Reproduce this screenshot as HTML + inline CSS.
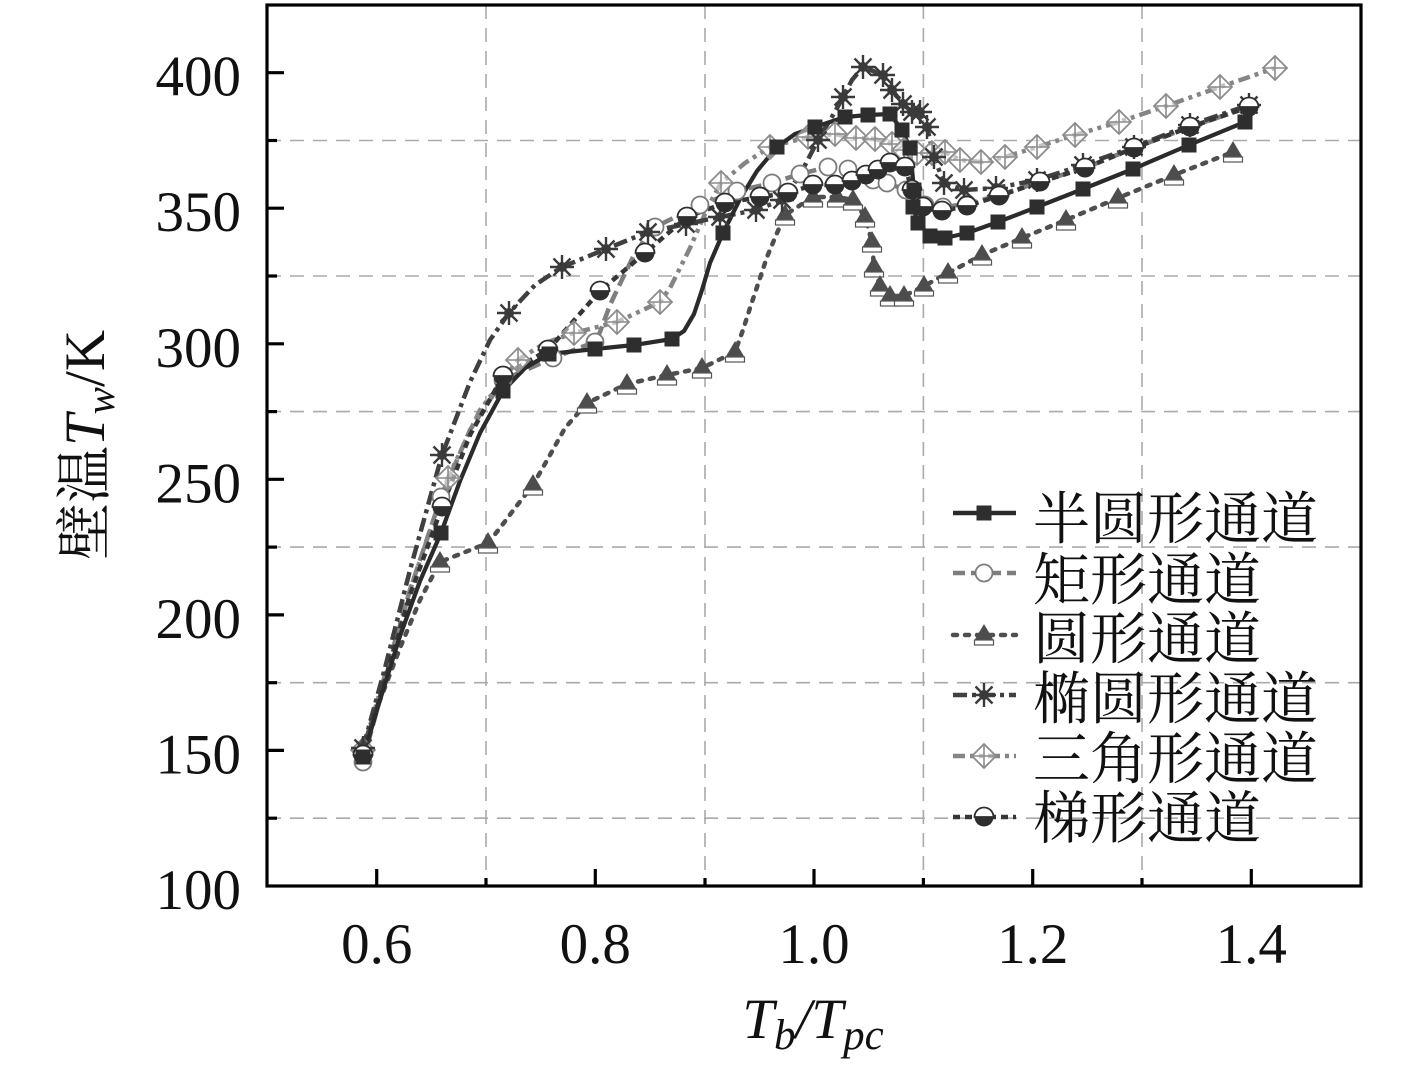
<!DOCTYPE html>
<html>
<head>
<meta charset="utf-8">
<style>
  html,body{margin:0;padding:0;background:#fff;}
  svg{display:block;}
  .tk{font-family:"Liberation Serif",serif;font-size:57px;fill:#111;}
  .lg{font-family:"Liberation Serif","Noto Serif CJK SC",serif;font-size:57px;fill:#111;}
</style>
</head>
<body>
<svg width="1417" height="1068" viewBox="0 0 1417 1068" xmlns="http://www.w3.org/2000/svg">
<defs>
  <marker id="mSq" markerWidth="20" markerHeight="20" refX="10" refY="10" markerUnits="userSpaceOnUse" overflow="visible">
    <rect x="2.5" y="2.5" width="15" height="15" fill="#2e2e2e"/>
  </marker>
  <marker id="mCi" markerWidth="20" markerHeight="20" refX="10" refY="10" markerUnits="userSpaceOnUse" overflow="visible">
    <circle cx="10" cy="10" r="8.5" fill="#fff" stroke="#7a7a7a" stroke-width="1.8"/>
  </marker>
  <marker id="mTr" markerWidth="20" markerHeight="20" refX="10" refY="10" markerUnits="userSpaceOnUse" overflow="visible">
    <polygon points="10,-1 20,16 0,16" fill="#4d4d4d"/>
    <rect x="0.5" y="15" width="19" height="5" fill="#fff" stroke="#555" stroke-width="1.2"/>
  </marker>
  <marker id="mSt" markerWidth="20" markerHeight="20" refX="10" refY="10" markerUnits="userSpaceOnUse" overflow="visible">
    <g stroke="#3a3a3a" stroke-width="2.4">
      <line x1="10" y1="-2" x2="10" y2="22"/>
      <line x1="-2" y1="10" x2="22" y2="10"/>
      <line x1="1.5" y1="1.5" x2="18.5" y2="18.5"/>
      <line x1="18.5" y1="1.5" x2="1.5" y2="18.5"/>
    </g>
    <circle cx="10" cy="10" r="5" fill="#3a3a3a"/>
  </marker>
  <marker id="mDi" markerWidth="20" markerHeight="20" refX="10" refY="10" markerUnits="userSpaceOnUse" overflow="visible">
    <polygon points="10,-2 22,10 10,22 -2,10" fill="#fff" fill-opacity="0.5" stroke="#8c8c8c" stroke-width="1.8"/>
    <line x1="10" y1="-2" x2="10" y2="22" stroke="#8c8c8c" stroke-width="1.6"/>
    <line x1="-2" y1="10" x2="22" y2="10" stroke="#8c8c8c" stroke-width="1.6"/>
  </marker>
  <marker id="mHc" markerWidth="20" markerHeight="20" refX="10" refY="10" markerUnits="userSpaceOnUse" overflow="visible">
    <path d="M0.5,10 A9.5,9.5 0 0 1 19.5,10 Z" fill="#fff" stroke="#2e2e2e" stroke-width="1.8"/>
    <path d="M0.5,10 A9.5,9.5 0 0 0 19.5,10 Z" fill="#2e2e2e"/>
  </marker>
</defs>

<rect x="0" y="0" width="1417" height="1068" fill="#fff"/>

<!-- grid -->
<g stroke="#aaa" stroke-width="1.6" stroke-dasharray="14 9" fill="none">
  <line x1="267" y1="140.5" x2="1361" y2="140.5"/>
  <line x1="267" y1="276" x2="1361" y2="276"/>
  <line x1="267" y1="411.6" x2="1361" y2="411.6"/>
  <line x1="267" y1="547.1" x2="1361" y2="547.1"/>
  <line x1="267" y1="682.7" x2="1361" y2="682.7"/>
  <line x1="267" y1="818.2" x2="1361" y2="818.2"/>
  <line x1="486" y1="5" x2="486" y2="886"/>
  <line x1="705" y1="5" x2="705" y2="886"/>
  <line x1="923.4" y1="5" x2="923.4" y2="886"/>
  <line x1="1142" y1="5" x2="1142" y2="886"/>
</g>

<!-- series lines -->
<g fill="none" stroke-linejoin="round">
  <!-- 矩形 -->
  <polyline stroke="#7e7e7e" stroke-width="4.5" stroke-dasharray="13 6" points="363,762 385,680 410,590 441,497 470,430 503,380 553,358 595,342 600,332 610,305 618,288 633,257 647,236 655,227 700,205 737,191 772,183 800,174 828,167 848,169 873,180 887,183 906,190 925,205 943,207 967,204 1000,195 1039,182 1085,168 1134,148 1190,127 1249,107"/>
  <!-- 三角形 -->
  <polyline stroke="#858585" stroke-width="4.5" stroke-dasharray="12 5 4 5 4 5" points="363,750 385,675 410,590 448,478 480,410 518,360 545,343 574,333 617,322 660,302 670,288 680,268 690,248 700,225 710,203 721,183 745,163 770,147 808,137 835,134 856,138 875,139 892,144 904,150 917,153 932,153 945,152 960,160 981,162 1005,157 1037,147 1075,135 1119,122 1166,106 1220,87 1275,68"/>
  <!-- 圆形 -->
  <polyline stroke="#4f4f4f" stroke-width="4.5" stroke-dasharray="4 8" stroke-linecap="round" points="363,747 380,700 400,648 420,600 440,562 488,543 500,528 515,508 533,485 550,455 565,428 587,403 627,384 667,375 702,368 735,352 743,330 750,308 757,287 767,257 777,233 785,215 813,197 837,197 853,200 865,217 872,242 874,267 880,286 890,296 904,296 924,286 948,273 982,255 1022,238 1066,220 1118,198 1174,175 1233,152"/>
  <!-- 椭圆形 -->
  <polyline stroke="#404040" stroke-width="4.5" stroke-dasharray="14 5 4 5" points="363,748 385,668 410,570 442,455 470,382 490,340 509,313 535,285 562,267 606,249 648,232 686,224 720,217 756,210 782,200 800,175 818,140 836,110 843,97 852,80 863,67 883,75 892,90 903,104 912,112 920,112 927,127 934,157 944,183 964,190 996,188 1037,180 1083,165 1134,147 1190,125 1249,105"/>
  <!-- 梯形 -->
  <polyline stroke="#363636" stroke-width="4.5" stroke-dasharray="7 5" points="363,755 385,680 410,595 442,507 470,435 503,376 548,350 600,291 645,253 687,217 725,203 760,197 788,193 813,185 835,185 852,181 866,175 878,170 890,163 905,167 912,190 923,207 942,211 967,206 999,196 1040,182 1085,168 1134,148 1190,127 1249,107"/>
  <!-- 半圆形 -->
  <polyline stroke="#2b2b2b" stroke-width="4.2" points="363,757 380,700 400,636 420,581 441,533 460,481 480,433 503,391 525,368 549,354 595,349 634,345 672,339 684,331 694,314 702,290 710,263 723,233 740,199 757,171 777,147 795,134 815,127 845,117 868,115 890,114 902,130 910,148 914,190 913,207 918,223 930,236 945,238 967,233 998,222 1037,207 1083,189 1133,169 1189,145 1245,122"/>
</g>

<!-- series markers -->
<g fill="none" stroke="none">
  <polyline marker-start="url(#mCi)" marker-mid="url(#mCi)" marker-end="url(#mCi)" points="363,762 441,497 503,380 553,358 595,342 655,227 700,205 737,191 772,183 800,174 828,167 848,169 873,180 887,183 906,190 925,205 943,207 967,204 1000,195 1039,182 1085,168 1134,148 1190,127 1249,107"/>
  <polyline marker-start="url(#mDi)" marker-mid="url(#mDi)" marker-end="url(#mDi)" points="363,750 448,478 518,360 574,333 617,322 660,302 721,183 770,147 808,137 835,134 856,138 875,139 892,144 904,150 917,153 932,153 945,152 960,160 981,162 1005,157 1037,147 1075,135 1119,122 1166,106 1220,87 1275,68"/>
  <polyline marker-start="url(#mTr)" marker-mid="url(#mTr)" marker-end="url(#mTr)" points="363,747 440,562 488,543 533,485 587,403 627,384 667,375 702,368 735,352 785,215 813,197 837,197 853,200 865,217 872,242 874,267 880,286 890,296 904,296 924,286 948,273 982,255 1022,238 1066,220 1118,198 1174,175 1233,152"/>
  <polyline marker-start="url(#mSt)" marker-mid="url(#mSt)" marker-end="url(#mSt)" points="363,748 442,455 509,313 562,267 606,249 648,232 686,224 720,217 756,210 782,200 818,140 843,97 863,67 883,75 892,90 903,104 912,112 920,112 927,127 934,157 944,183 964,190 996,188 1037,180 1083,165 1134,147 1190,125 1249,105"/>
  <polyline marker-start="url(#mHc)" marker-mid="url(#mHc)" marker-end="url(#mHc)" points="363,755 442,507 503,376 548,350 600,291 645,253 687,217 725,203 760,197 788,193 813,185 835,185 852,181 866,175 878,170 890,163 905,167 912,190 923,207 942,211 967,206 999,196 1040,182 1085,168 1134,148 1190,127 1249,107"/>
  <polyline marker-start="url(#mSq)" marker-mid="url(#mSq)" marker-end="url(#mSq)" points="363,757 441,533 503,391 549,354 595,349 634,345 672,339 723,233 777,147 815,127 845,117 868,115 890,114 902,130 910,148 914,190 913,207 918,223 930,236 945,238 967,233 998,222 1037,207 1083,189 1133,169 1189,145 1245,122"/>
</g>

<!-- frame and ticks -->
<rect x="267" y="5" width="1094" height="881" fill="none" stroke="#000" stroke-width="3.2"/>
<g stroke="#000" stroke-width="3.2">
  <line x1="376.7" y1="886" x2="376.7" y2="869"/>
  <line x1="595.3" y1="886" x2="595.3" y2="869"/>
  <line x1="814" y1="886" x2="814" y2="869"/>
  <line x1="1032.7" y1="886" x2="1032.7" y2="869"/>
  <line x1="1251.3" y1="886" x2="1251.3" y2="869"/>
  <line x1="486" y1="886" x2="486" y2="878"/>
  <line x1="705" y1="886" x2="705" y2="878"/>
  <line x1="923.4" y1="886" x2="923.4" y2="878"/>
  <line x1="1142" y1="886" x2="1142" y2="878"/>
  <line x1="267" y1="72.7" x2="284" y2="72.7"/>
  <line x1="267" y1="208.2" x2="284" y2="208.2"/>
  <line x1="267" y1="343.8" x2="284" y2="343.8"/>
  <line x1="267" y1="479.3" x2="284" y2="479.3"/>
  <line x1="267" y1="614.9" x2="284" y2="614.9"/>
  <line x1="267" y1="750.4" x2="284" y2="750.4"/>
  <line x1="267" y1="140.5" x2="277" y2="140.5"/>
  <line x1="267" y1="276" x2="277" y2="276"/>
  <line x1="267" y1="411.6" x2="277" y2="411.6"/>
  <line x1="267" y1="547.1" x2="277" y2="547.1"/>
  <line x1="267" y1="682.7" x2="277" y2="682.7"/>
  <line x1="267" y1="818.2" x2="277" y2="818.2"/>
</g>

<!-- tick labels -->
<g class="tk" text-anchor="end">
  <text x="241" y="95.7">400</text>
  <text x="241" y="231.2">350</text>
  <text x="241" y="366.8">300</text>
  <text x="241" y="502.3">250</text>
  <text x="241" y="637.9">200</text>
  <text x="241" y="773.4">150</text>
  <text x="241" y="909">100</text>
</g>
<g class="tk" text-anchor="middle">
  <text x="376.7" y="963">0.6</text>
  <text x="595.3" y="963">0.8</text>
  <text x="814" y="963">1.0</text>
  <text x="1032.7" y="963">1.2</text>
  <text x="1251.3" y="963">1.4</text>
</g>

<!-- axis titles -->
<text x="813" y="1038" text-anchor="middle" font-family="Liberation Serif, serif" font-size="57" font-style="italic" fill="#111">T<tspan font-size="43" dy="11">b</tspan><tspan font-size="57" dy="-11">/T</tspan><tspan font-size="43" dy="11">pc</tspan></text>
<text transform="translate(104,445) rotate(-90)" text-anchor="middle" font-family="Liberation Serif, 'Noto Serif CJK SC', serif" font-size="57" fill="#111">壁温<tspan font-style="italic">T</tspan><tspan font-style="italic" font-size="41" dy="10">w</tspan><tspan dy="-10">/K</tspan></text>

<!-- legend -->
<g fill="none">
  <polyline stroke="#2b2b2b" stroke-width="4.5" points="953,513 984,513 1016,513" marker-mid="url(#mSq)"/>
  <polyline stroke="#7e7e7e" stroke-width="4.5" stroke-dasharray="12 6" points="953,573 984,573 1016,573" marker-mid="url(#mCi)"/>
  <polyline stroke="#4f4f4f" stroke-width="4.5" stroke-dasharray="4 8" stroke-linecap="round" points="953,635 984,635 1016,635" marker-mid="url(#mTr)"/>
  <polyline stroke="#404040" stroke-width="4.5" stroke-dasharray="14 5 4 5" points="953,695 984,695 1016,695" marker-mid="url(#mSt)"/>
  <polyline stroke="#858585" stroke-width="4.5" stroke-dasharray="12 5 4 5 4 5" points="953,756 984,756 1016,756" marker-mid="url(#mDi)"/>
  <polyline stroke="#363636" stroke-width="4.5" stroke-dasharray="7 5" points="953,817 984,817 1016,817" marker-mid="url(#mHc)"/>
</g>
<g class="lg">
  <text x="1033" y="538.5">半圆形通道</text>
  <text x="1033" y="599.5">矩形通道</text>
  <text x="1033" y="658.7">圆形通道</text>
  <text x="1033" y="718.5">椭圆形通道</text>
  <text x="1033" y="778.5">三角形通道</text>
  <text x="1033" y="838">梯形通道</text>
</g>
</svg>
</body>
</html>
